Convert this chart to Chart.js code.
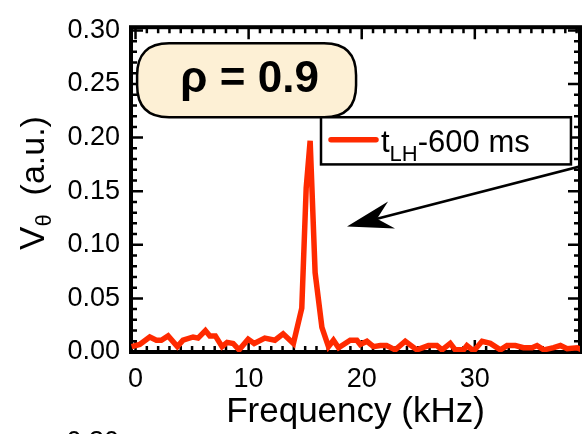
<!DOCTYPE html>
<html>
<head>
<meta charset="utf-8">
<script src="https://cdn.jsdelivr.net/npm/chart.js@4.4.0/dist/chart.umd.min.js"></script>
<style>
  html, body { margin: 0; padding: 0; background: #fff; }
  canvas { display: block; }
</style>
</head>
<body>
<canvas id="spectrum" width="582" height="434"></canvas>
<script>
// V_theta spectrum at rho = 0.9, 600 ms before the L-H transition
var freqKHz = [-0.35, 0.37, 1.26, 1.84, 2.28, 2.88, 3.70, 4.20, 5.09, 5.53,
  6.18, 6.57, 7.06, 7.65, 8.10, 8.63, 9.16, 9.96, 10.49, 11.43,
  12.32, 13.05, 13.96, 14.70, 15.09, 15.44, 15.88, 16.48, 17.06, 17.50,
  17.95, 18.98, 19.57, 19.87, 20.46, 21.04, 21.64, 22.20, 22.96, 23.85,
  24.88, 25.90, 26.65, 27.10, 27.83, 28.27, 29.00, 29.30, 29.90, 30.64,
  31.37, 32.26, 32.85, 33.58, 34.30, 35.06, 35.50, 36.10, 36.97, 37.57,
  38.16, 39.04, 39.50];
var vTheta = [0.005, 0.007, 0.014, 0.011, 0.011, 0.015, 0.005, 0.011, 0.014, 0.013,
  0.020, 0.015, 0.015, 0.005, 0.009, 0.008, 0.002, 0.012, 0.008, 0.013,
  0.011, 0.017, 0.008, 0.041, 0.153, 0.197, 0.074, 0.023, 0.005, 0.011,
  0.004, 0.011, 0.011, 0.007, 0.010, 0.005, 0.006, 0.006, 0.002, 0.010,
  0.002, 0.006, 0.006, 0.002, 0.008, 0.002, 0.002, 0.006, 0.001, 0.010,
  0.008, 0.002, 0.006, 0.006, 0.004, 0.004, 0.006, 0.002, 0.004, 0.006,
  0.003, 0.004, 0.002];

var xTicks = [0, 10, 20, 30];
var yTicks = [0, 0.05, 0.10, 0.15, 0.20, 0.25, 0.30];
var seriesName = { main: 't', sub: 'LH', tail: '-600 ms' };
var rhoText = 'ρ = 0.9';
var xTitle = 'Frequency (kHz)';

var FONT = '"Liberation Sans", Arial, Helvetica, sans-serif';
var RED = '#ff2a00';

// boxes and arrow placed in data units
var pillBox = { x0: 0.14, x1: 19.5, y0: 0.219, y1: 0.288 };
var legendBox = { x0: 16.4, x1: 38.5, y0: 0.175, y1: 0.219 };
var arrow = { fromX: 39.6, fromY: 0.174, toX: 18.7, toY: 0.117 };

function roundRect(ctx, x, y, w, h, r) {
  ctx.beginPath();
  ctx.moveTo(x + r, y);
  ctx.lineTo(x + w - r, y);
  ctx.quadraticCurveTo(x + w, y, x + w, y + r);
  ctx.lineTo(x + w, y + h - r);
  ctx.quadraticCurveTo(x + w, y + h, x + w - r, y + h);
  ctx.lineTo(x + r, y + h);
  ctx.quadraticCurveTo(x, y + h, x, y + h - r);
  ctx.lineTo(x, y + r);
  ctx.quadraticCurveTo(x, y, x + r, y);
  ctx.closePath();
}

var framePlugin = {
  id: 'frame',
  beforeDatasetsDraw: function(chart) {
    var ctx = chart.ctx, a = chart.chartArea;
    var xs = chart.scales.x, ys = chart.scales.y;
    ctx.save();
    ctx.strokeStyle = '#000';
    ctx.lineWidth = 2.5;
    ctx.beginPath();
    for (var k = 0; k <= 39; k++) {
      var px = xs.getPixelForValue(k);
      var len = (k % 10 === 0) ? 12 : 6;
      ctx.moveTo(px, a.bottom); ctx.lineTo(px, a.bottom - len);
      ctx.moveTo(px, a.top); ctx.lineTo(px, a.top + len);
    }
    for (var j = 0; j <= 30; j++) {
      var py = ys.getPixelForValue(j / 100);
      var l2 = (j % 5 === 0) ? 12 : 6;
      ctx.moveTo(a.left, py); ctx.lineTo(a.left + l2, py);
      ctx.moveTo(a.right, py); ctx.lineTo(a.right - l2, py);
    }
    ctx.stroke();
    ctx.lineWidth = 4;
    ctx.strokeRect(a.left, a.top, a.right - a.left, a.bottom - a.top);
    ctx.restore();
  },
  afterDatasetsDraw: function(chart) {
    var ctx = chart.ctx;
    var xs = chart.scales.x, ys = chart.scales.y;
    ctx.save();

    // rho label
    var px0 = xs.getPixelForValue(pillBox.x0), px1 = xs.getPixelForValue(pillBox.x1);
    var py0 = ys.getPixelForValue(pillBox.y1), py1 = ys.getPixelForValue(pillBox.y0);
    roundRect(ctx, px0, py0, px1 - px0, py1 - py0, 32);
    ctx.fillStyle = '#fdf0d5';
    ctx.fill();
    ctx.lineWidth = 2.5;
    ctx.strokeStyle = '#000';
    ctx.stroke();
    ctx.fillStyle = '#000';
    ctx.font = 'bold 44px ' + FONT;
    ctx.textAlign = 'center';
    ctx.textBaseline = 'alphabetic';
    ctx.fillText(rhoText, (px0 + px1) / 2 + 3, py1 - 25);

    // legend
    var lx0 = xs.getPixelForValue(legendBox.x0), lx1 = xs.getPixelForValue(legendBox.x1);
    var ly0 = ys.getPixelForValue(legendBox.y1), ly1 = ys.getPixelForValue(legendBox.y0);
    ctx.fillStyle = '#fff';
    ctx.fillRect(lx0, ly0, lx1 - lx0, ly1 - ly0);
    ctx.lineWidth = 2.5;
    ctx.strokeRect(lx0, ly0, lx1 - lx0, ly1 - ly0);
    var midY = (ly0 + ly1) / 2;
    ctx.strokeStyle = RED;
    ctx.lineWidth = 5.5;
    ctx.lineCap = 'round';
    ctx.beginPath();
    ctx.moveTo(lx0 + 10, midY - 1); ctx.lineTo(lx0 + 55, midY - 1);
    ctx.stroke();
    ctx.lineCap = 'butt';
    ctx.fillStyle = '#000';
    ctx.textAlign = 'left';
    var tx = lx0 + 60, base = midY + 11;
    ctx.font = '31px ' + FONT;
    ctx.fillText(seriesName.main, tx, base);
    tx += ctx.measureText(seriesName.main).width;
    ctx.font = '22px ' + FONT;
    ctx.fillText(seriesName.sub, tx, base + 9);
    tx += ctx.measureText(seriesName.sub).width;
    ctx.font = '31px ' + FONT;
    ctx.fillText(seriesName.tail, tx, base);

    // arrow pointing at the peak
    var ax0 = xs.getPixelForValue(arrow.fromX), ay0 = ys.getPixelForValue(arrow.fromY);
    var ax1 = xs.getPixelForValue(arrow.toX), ay1 = ys.getPixelForValue(arrow.toY);
    var dx = ax0 - ax1, dy = ay0 - ay1, d = Math.sqrt(dx * dx + dy * dy);
    var ux = dx / d, uy = dy / d, nx = -uy, ny = ux;
    ctx.strokeStyle = '#000';
    ctx.lineWidth = 2.5;
    ctx.beginPath();
    ctx.moveTo(ax0, ay0);
    ctx.lineTo(ax1 + ux * 30, ay1 + uy * 30);
    ctx.stroke();
    ctx.beginPath();
    ctx.moveTo(ax1, ay1);
    ctx.lineTo(ax1 + ux * 46 + nx * 14, ay1 + uy * 46 + ny * 14);
    ctx.lineTo(ax1 + ux * 31, ay1 + uy * 31);
    ctx.lineTo(ax1 + ux * 46 - nx * 14, ay1 + uy * 46 - ny * 14);
    ctx.closePath();
    ctx.fillStyle = '#000';
    ctx.fill();

    // y axis title with subscript theta
    ctx.translate(44, 183);
    ctx.rotate(-Math.PI / 2);
    ctx.font = '35px ' + FONT;
    var wV = ctx.measureText('V').width;
    ctx.font = '22px ' + FONT;
    var wT = ctx.measureText('θ').width;
    ctx.font = '34px ' + FONT;
    var wR = ctx.measureText('  (a.u.)').width;
    var sx = -(wV + wT + wR) / 2;
    ctx.font = '35px ' + FONT;
    ctx.fillText('V', sx, 0);
    ctx.font = '22px ' + FONT;
    ctx.fillText('θ', sx + wV, 7);
    ctx.font = '34px ' + FONT;
    ctx.fillText('  (a.u.)', sx + wV + wT, 0);
    ctx.restore();

    // top label of the panel below, cut by the page edge
    ctx.save();
    ctx.fillStyle = '#000';
    ctx.font = '27px ' + FONT;
    ctx.textAlign = 'right';
    ctx.textBaseline = 'middle';
    ctx.fillText(yTicks[yTicks.length - 1].toFixed(2), 119, 443);
    ctx.restore();
  }
};

var points = freqKHz.map(function(f, i) { return { x: f, y: vTheta[i] }; });

new Chart(document.getElementById('spectrum'), {
  type: 'line',
  data: {
    datasets: [{
      label: seriesName.main + seriesName.sub + seriesName.tail,
      data: points,
      borderColor: RED,
      borderWidth: 5.5,
      pointRadius: 0,
      tension: 0,
      fill: false
    }]
  },
  options: {
    responsive: false,
    animation: false,
    devicePixelRatio: 1,
    layout: { padding: { top: 15, right: 2, left: 0, bottom: 0 } },
    plugins: { legend: { display: false }, tooltip: { enabled: false } },
    scales: {
      x: {
        type: 'linear',
        min: -0.4,
        max: 39.3,
        afterBuildTicks: function(axis) { axis.ticks = xTicks.map(function(v) { return { value: v }; }); },
        afterFit: function(axis) { axis.height = 82; },
        grid: { display: false, drawTicks: false },
        border: { display: false },
        ticks: { color: '#000', font: { family: FONT, size: 27 }, padding: 11, maxRotation: 0,
          callback: function(v) { return String(v); } },
        title: { display: true, text: xTitle, color: '#000', font: { family: FONT, size: 35 },
          padding: { top: 0, bottom: 1 } }
      },
      y: {
        min: 0,
        max: 0.303,
        afterBuildTicks: function(axis) { axis.ticks = yTicks.map(function(v) { return { value: v }; }); },
        afterFit: function(axis) { axis.width = 131; },
        grid: { display: false, drawTicks: false },
        border: { display: false },
        ticks: { color: '#000', font: { family: FONT, size: 27 }, padding: 11,
          callback: function(v) { return v.toFixed(2); } }
      }
    }
  },
  plugins: [framePlugin]
});
</script>
</body>
</html>
